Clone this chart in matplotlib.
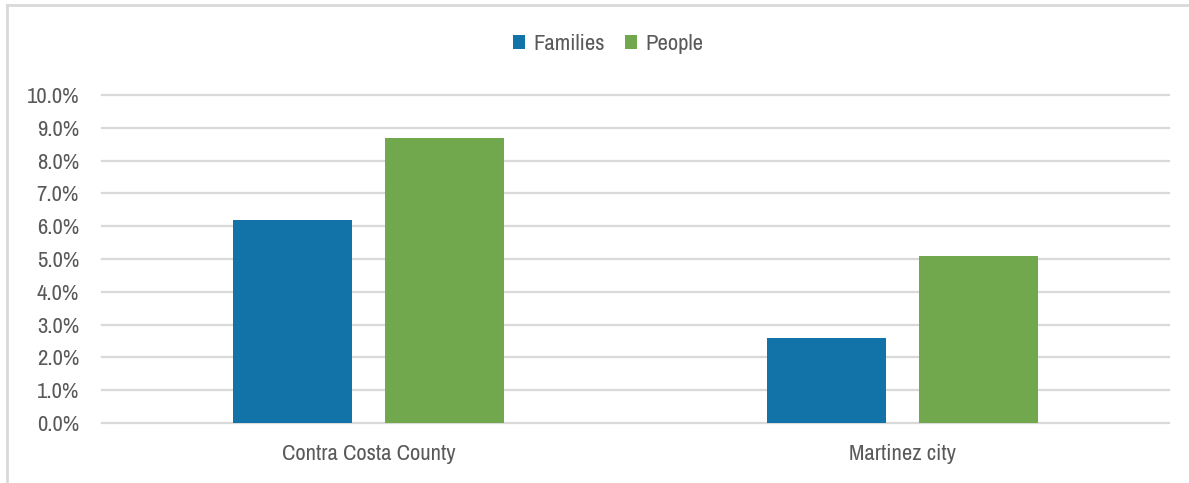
import matplotlib.pyplot as plt
from matplotlib.lines import Line2D
from matplotlib import font_manager
import numpy as np

categories = ["Contra Costa County", "Martinez city"]
families = [6.2, 2.6]
people = [8.7, 5.1]
yticks = [0, 1, 2, 3, 4, 5, 6, 7, 8, 9, 10]

# prefer a narrow face if one is installed
names = sorted({f.name for f in font_manager.fontManager.ttflist})
narrow = [n for n in names if 'Narrow' in n or 'Condensed' in n]
if narrow:
    fam, fs = narrow[0], 16.3
else:
    fam, fs = 'Liberation Sans', 13
plt.rcParams['font.family'] = [fam, 'DejaVu Sans']
txt = '#595959'
grid = '#d9d9d9'

fig = plt.figure(figsize=(11.89, 4.83), dpi=100)
ax = fig.add_axes([102 / 1189, 60 / 483, 1067 / 1189, 328 / 483])

x = np.arange(len(categories))
w = 0.223
off = 0.1426
ax.bar(x - off, families, w, color='#1273a8', label='Families', zorder=3)
ax.bar(x + off, people, w, color='#71a84e', label='People', zorder=3)

ax.set_xlim(-0.5, 1.5)
ax.set_ylim(0, 10)
ax.set_yticks(yticks)
ax.set_yticklabels([f"{v:.1f}%" for v in yticks])
ax.set_xticks(x)
ax.set_xticklabels(categories)
ax.tick_params(axis='both', length=0, labelsize=fs, colors=txt)
ax.tick_params(axis='y', pad=16.5)
ax.tick_params(axis='x', pad=15)
ax.yaxis.grid(True, color=grid, linewidth=1.6, zorder=0)
for l in ax.get_ygridlines():
    l.set_clip_on(False)
for s in ax.spines.values():
    s.set_visible(False)

fig.legend(loc='center', bbox_to_anchor=(608 / 1189, 1 - 44 / 483), ncol=2, frameon=False,
           fontsize=fs, labelcolor=txt, handlelength=0.55, handleheight=0.55,
           handletextpad=0.35, columnspacing=0.9)

fig.add_artist(Line2D([7 / 1189, 1], [1 - 5 / 483, 1 - 5 / 483], color=grid, linewidth=2))
fig.add_artist(Line2D([7 / 1189, 7 / 1189], [0, 1 - 5 / 483], color=grid, linewidth=2))

fig.savefig('out.png', dpi=100)
